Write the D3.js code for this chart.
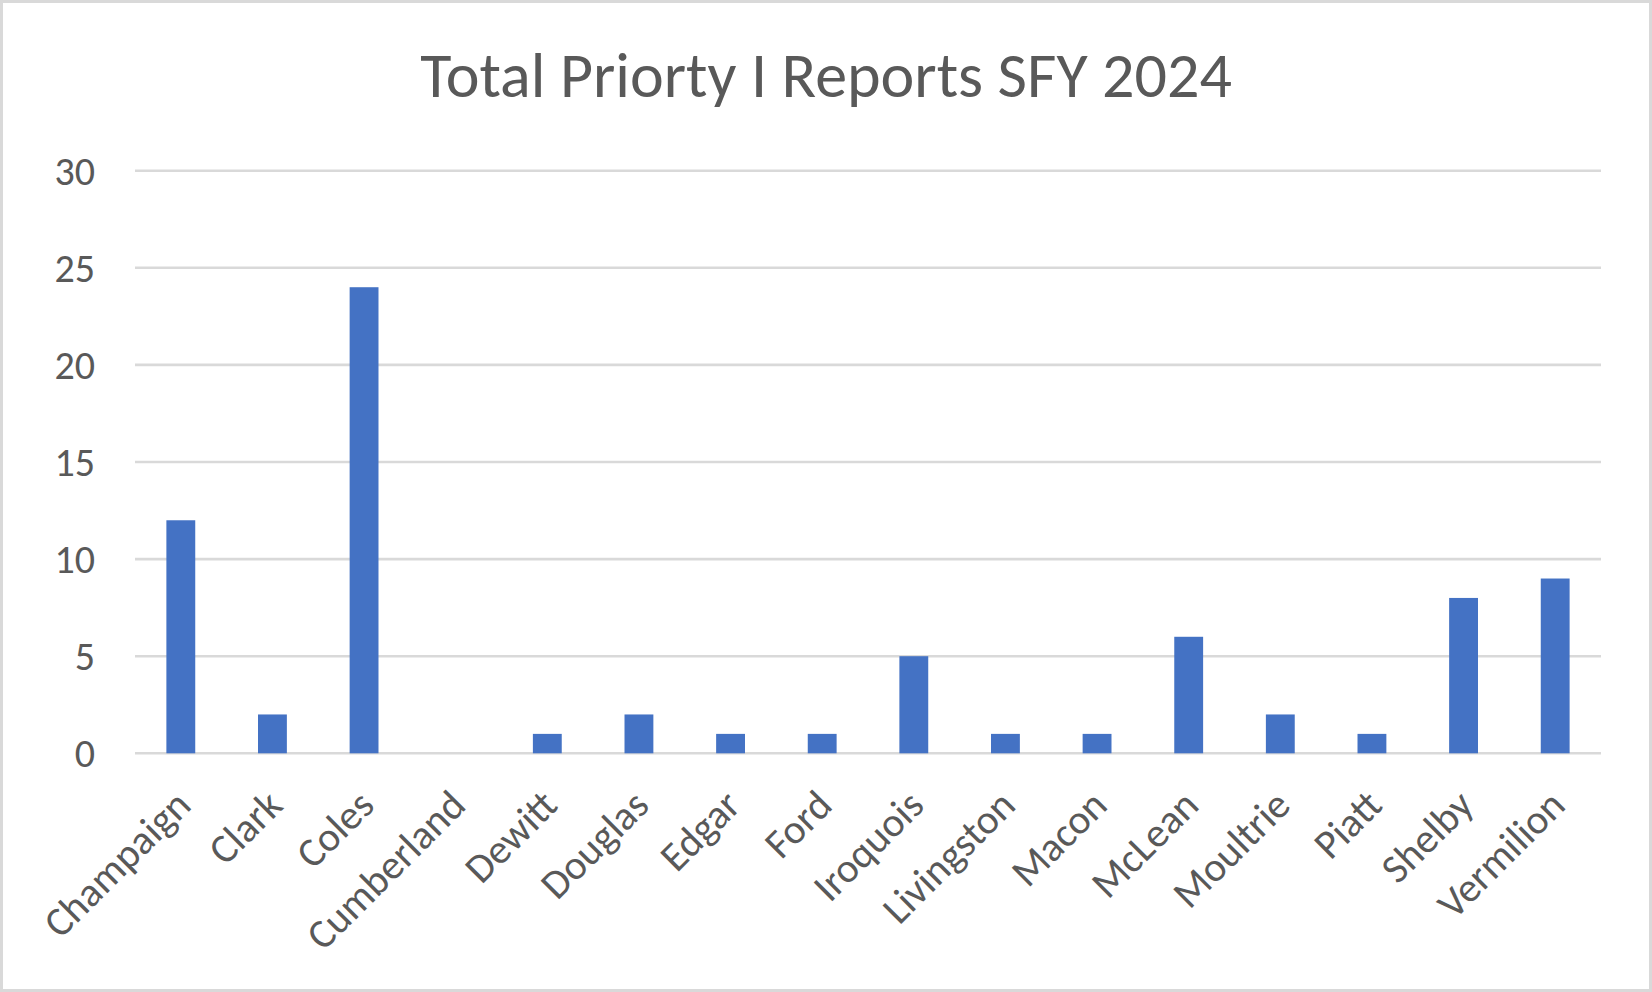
<!doctype html>
<html>
<head>
<meta charset="utf-8"/>
<title>Total Priorty I Reports SFY 2024</title>
<style>
body{margin:0;background:#fff;}
text{font-family:Carlito, Calibri, Lato, sans-serif;fill:#595959;}
</style>
<script src="https://d3js.org/d3.v7.min.js"></script>
</head>
<body>
<script>
// data
var counties = ["Champaign","Clark","Coles","Cumberland","Dewitt","Douglas","Edgar","Ford",
  "Iroquois","Livingston","Macon","McLean","Moultrie","Piatt","Shelby","Vermilion"];
var reports = [12,2,24,0,1,2,1,1,5,1,1,6,2,1,8,9];
var yTicks = [0,5,10,15,20,25,30];
var chartTitle = "Total Priorty I Reports SFY 2024";

var W = 1652, H = 992;
var plotL = 135, plotR = 1601, plotT = 170.7, plotB = 753.3;

var svg = d3.select("body").append("svg")
  .attr("width", W)
  .attr("height", H);

svg.append("rect")
  .attr("x", 1.5).attr("y", 1.5)
  .attr("width", W-3).attr("height", H-3)
  .attr("fill", "#fff")
  .attr("stroke", "#d9d9d9")
  .attr("stroke-width", 3);

var x = d3.scaleBand().domain(counties).range([plotL, plotR]).paddingInner(0.685).paddingOuter(0.3425);
var y = d3.scaleLinear().domain([0, 30]).range([plotB, plotT]);

// gridlines
svg.selectAll(".grid")
  .data(yTicks)
  .enter().append("line")
  .attr("x1", plotL).attr("x2", plotR)
  .attr("y1", d => y(d)).attr("y2", d => y(d))
  .attr("stroke", "#d9d9d9")
  .attr("stroke-width", 2.6);

// y labels
svg.selectAll(".ylab")
  .data(yTicks)
  .enter().append("text")
  .attr("x", 95)
  .attr("y", d => y(d))
  .attr("dy", "0.35em")
  .attr("text-anchor", "end")
  .attr("font-size", 40)
  .text(d => d);

// bars
svg.selectAll(".bar")
  .data(reports)
  .enter().append("rect")
  .attr("x", (d,i) => x(counties[i]))
  .attr("y", d => y(d))
  .attr("width", x.bandwidth())
  .attr("height", d => y(0) - y(d))
  .attr("fill", "#4472c4");

// x labels
svg.selectAll(".xlab")
  .data(counties)
  .enter().append("text")
  .attr("transform", d => "translate(" + (x(d) + x.bandwidth()/2 + 2) + "," + (plotB + 44) + ") rotate(-45)")
  .attr("text-anchor", "end")
  .attr("dy", "0.35em")
  .attr("font-size", 41)
  .text(d => d);

// title
svg.append("text")
  .attr("x", 826)
  .attr("y", 96.5)
  .attr("text-anchor", "middle")
  .attr("font-size", 64)
  .text(chartTitle);
</script>
</body>
</html>
